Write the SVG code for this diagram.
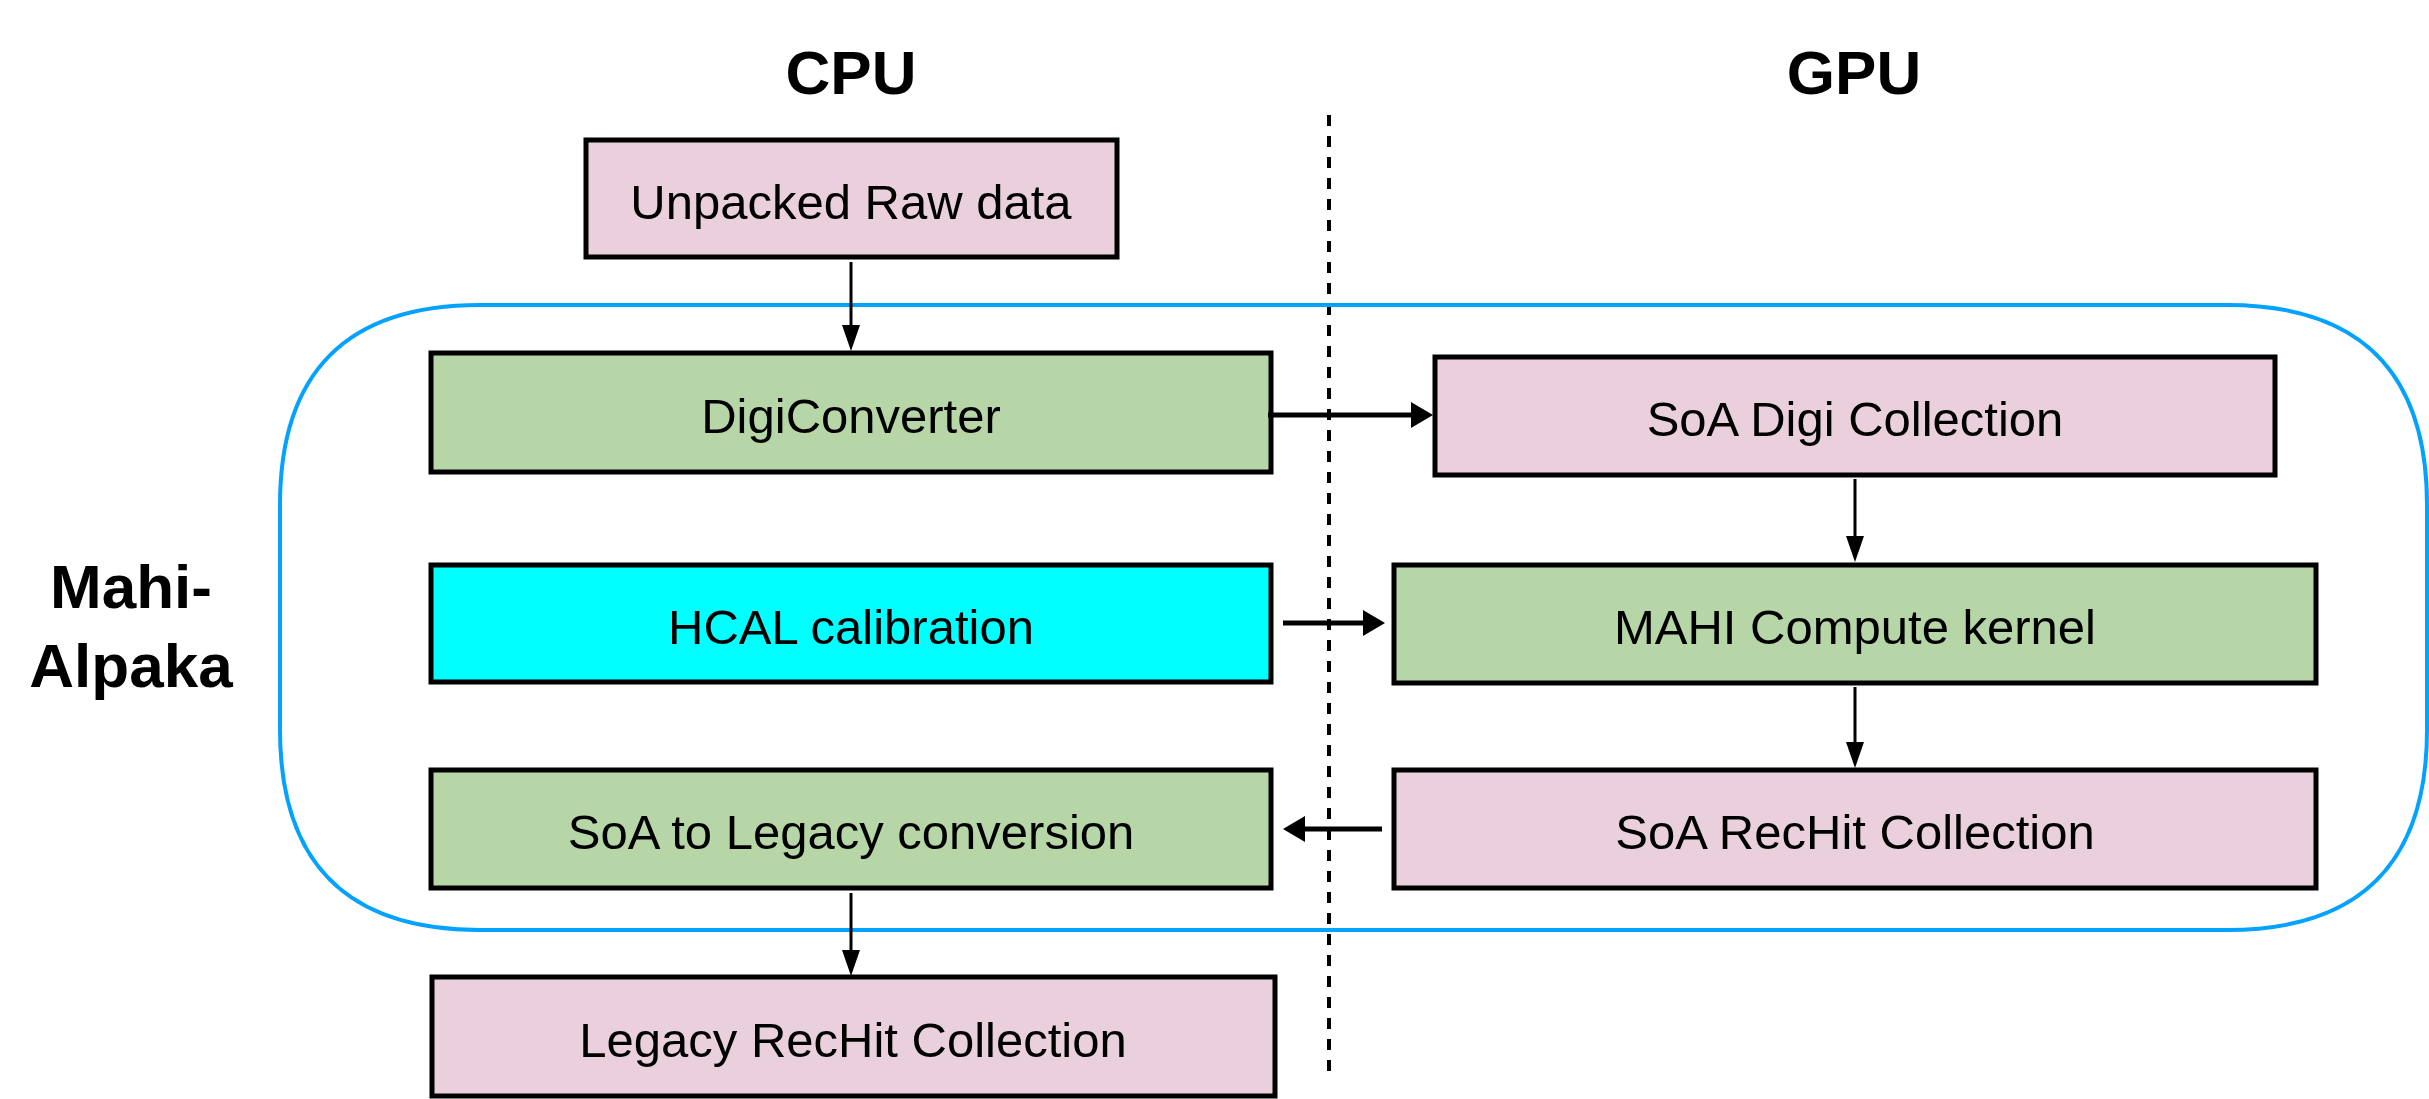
<svg xmlns="http://www.w3.org/2000/svg" width="2429" height="1099" viewBox="0 0 2429 1099">
<style>
.box{stroke:#000;stroke-width:5}
.pink{fill:#E9D0DC}
.green{fill:#B7D6A8}
.cyan{fill:#00FFFF}
.lbl{font-family:"Liberation Sans",Arial,Helvetica,sans-serif;font-size:49px;fill:#000;text-anchor:middle}
.hdr{font-family:"Liberation Sans",Arial,Helvetica,sans-serif;font-size:62px;font-weight:bold;fill:#000;text-anchor:middle}
.thin{stroke:#000;stroke-width:3;fill:none}
.thick{stroke:#000;stroke-width:5;fill:none}
</style>
<defs>
<marker id="ahThin" markerUnits="userSpaceOnUse" markerWidth="28" markerHeight="20" refX="12" refY="9" orient="auto">
<path d="M0,0 L26,9 L0,18 Z" fill="#000"/>
</marker>
<marker id="ahThick" markerUnits="userSpaceOnUse" markerWidth="24" markerHeight="28" refX="10" refY="13" orient="auto">
<path d="M0,0 L22,13 L0,26 Z" fill="#000"/>
</marker>
</defs>
<rect x="0" y="0" width="2429" height="1099" fill="#fff"/>
<g id="headers">
<text class="hdr" x="851" y="94">CPU</text>
<text class="hdr" x="1854" y="94">GPU</text>
<text class="hdr" x="131" y="608">Mahi-</text>
<text class="hdr" x="131" y="687">Alpaka</text>
</g>
<g id="divider">
<line x1="1329" y1="115" x2="1329" y2="1075" stroke="#000" stroke-width="4" stroke-dasharray="11 10"/>
</g>
<g id="mahi-alpaka">
<path d="M480,305 H2227 C2360,305 2427,372 2427,505 V730 C2427,863 2360,930 2227,930 H480 C347,930 280,863 280,730 V505 C280,372 347,305 480,305 Z" fill="none" stroke="#03A2FF" stroke-width="4"/>
</g>
<g id="unpacked-raw-data">
<rect class="box pink" x="586" y="140" width="531" height="117"/>
<text class="lbl" x="851" y="219">Unpacked Raw data</text>
</g>
<g id="digiconverter">
<rect class="box green" x="431" y="353" width="840" height="119"/>
<text class="lbl" x="851" y="433">DigiConverter</text>
</g>
<g id="hcal-calibration">
<rect class="box cyan" x="431" y="565" width="840" height="117"/>
<text class="lbl" x="851" y="644">HCAL calibration</text>
</g>
<g id="soa-to-legacy">
<rect class="box green" x="431" y="770" width="840" height="118"/>
<text class="lbl" x="851" y="849">SoA to Legacy conversion</text>
</g>
<g id="legacy-rechit">
<rect class="box pink" x="432" y="977" width="843" height="119"/>
<text class="lbl" x="853" y="1057">Legacy RecHit Collection</text>
</g>
<g id="soa-digi">
<rect class="box pink" x="1435" y="357" width="840" height="118"/>
<text class="lbl" x="1855" y="436">SoA Digi Collection</text>
</g>
<g id="mahi-kernel">
<rect class="box green" x="1394" y="565" width="922" height="118"/>
<text class="lbl" x="1855" y="644">MAHI Compute kernel</text>
</g>
<g id="soa-rechit">
<rect class="box pink" x="1394" y="770" width="922" height="118"/>
<text class="lbl" x="1855" y="849">SoA RecHit Collection</text>
</g>
<g id="connectors">
<line class="thin" x1="851" y1="262" x2="851" y2="337" marker-end="url(#ahThin)"/>
<line class="thick" x1="1268" y1="415" x2="1421" y2="415" marker-end="url(#ahThick)"/>
<line class="thin" x1="1855" y1="479" x2="1855" y2="548" marker-end="url(#ahThin)"/>
<line class="thick" x1="1283" y1="623" x2="1373" y2="623" marker-end="url(#ahThick)"/>
<line class="thick" x1="1382" y1="829" x2="1295" y2="829" marker-end="url(#ahThick)"/>
<line class="thin" x1="1855" y1="687" x2="1855" y2="754" marker-end="url(#ahThin)"/>
<line class="thin" x1="851" y1="893" x2="851" y2="962" marker-end="url(#ahThin)"/>
</g>
</svg>
